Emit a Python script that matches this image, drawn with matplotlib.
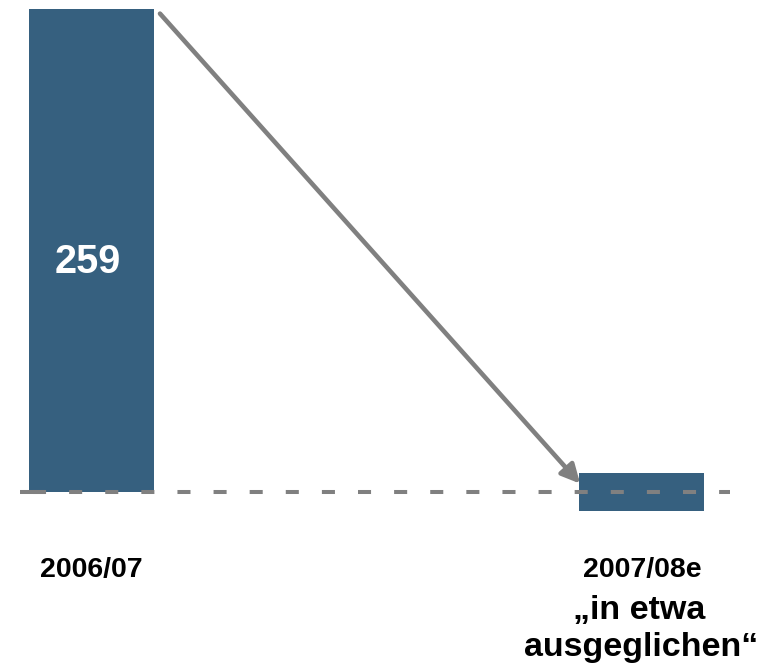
import matplotlib
matplotlib.use("Agg")
import matplotlib.pyplot as plt

# data
years = ["2006/07", "2007/08e"]
values = [259, 0]
band = 10  # second bar drawn as a small band around zero ("in etwa ausgeglichen")
value_label = "259"
note_lines = ["\u201ein etwa", "ausgeglichen\u201c"]

bar_color = "#36607F"
gray = "#808080"

plt.rcParams['font.family'] = ['Liberation Sans', 'DejaVu Sans']
plt.rcParams['lines.scale_dashes'] = False

fig = plt.figure(figsize=(7.71, 6.67), dpi=100)
ax = fig.add_axes([0, 0, 1, 1])
ax.set_xlim(-0.1664, 1.2355)
ax.set_ylim(-93.8, 263.8)
ax.axis("off")

w = 0.227
x = [0, 1]
# bars
ax.bar(x[0], values[0], width=w, color=bar_color, zorder=2)
ax.bar(x[1], 2 * band, bottom=values[1] - band, width=w, color=bar_color, zorder=2)

# dashed zero line
ax.hlines(0, -0.106, 1.161, colors=gray, linewidth=2.9,
          linestyles=(0, (9.4, 16.6)), zorder=3)
ax.hlines(0, -0.1305, -0.0845, colors=gray, linewidth=2.9, zorder=3)

# arrow from top of first bar to second bar
ax.annotate("", xy=(x[1] - w / 2 + 0.002, values[1] + 4.5),
            xytext=(x[0] + w / 2 + 0.011, values[0] - 2.5),
            arrowprops=dict(arrowstyle="-|>", color=gray, lw=3.3,
                            mutation_scale=28, shrinkA=0, shrinkB=0),
            zorder=4)

# value inside bar
ax.text(x[0] - 0.006, 117.4, value_label, color="white", fontsize=28.5,
        fontweight="bold", ha="center", va="baseline")

# category labels
ax.text(x[0], -45.5, years[0], fontsize=20.5, fontweight="bold",
        ha="center", va="baseline")
ax.text(x[1] + 0.002, -45.5, years[1], fontsize=20.5, fontweight="bold",
        ha="center", va="baseline")
ax.text(x[1] - 0.004, -68.0, note_lines[0], fontsize=24.5, fontweight="bold",
        ha="center", va="baseline")
ax.text(x[1], -87.8, note_lines[1], fontsize=24.5, fontweight="bold",
        ha="center", va="baseline")

fig.savefig("out.png", dpi=100)
